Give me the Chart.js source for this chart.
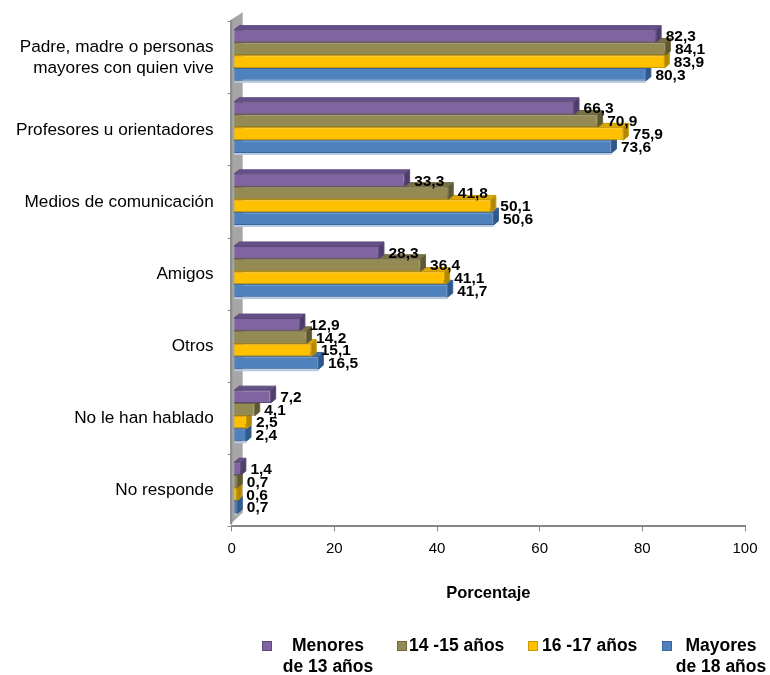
<!DOCTYPE html>
<html>
<head>
<meta charset="utf-8">
<script src="https://cdn.jsdelivr.net/npm/chart.js@4/dist/chart.umd.min.js"></script>
<style>
  body { margin: 0; background: #fff; }
  #wrap { width: 770px; height: 675px; position: relative; }
</style>
</head>
<body>
<div id="wrap"><canvas id="bars"></canvas></div>
<script>
// =============================
// DATA
// =============================
const categories = [
    ['Padre, madre o personas', 'mayores con quien vive'],
    'Profesores u orientadores',
    'Medios de comunicación',
    'Amigos',
    'Otros',
    'No le han hablado',
    'No responde'
];
const seriesNames = [['Menores', 'de 13 años'], ['14 -15 años'], ['16 -17 años'], ['Mayores', 'de 18 años']];
const menores13 = [82.3, 66.3, 33.3, 28.3, 12.9, 7.2, 1.4];
const edad14a15 = [84.1, 70.9, 41.8, 36.4, 14.2, 4.1, 0.7];
const edad16a17 = [83.9, 75.9, 50.1, 41.1, 15.1, 2.5, 0.6];
const mayores18 = [80.3, 73.6, 50.6, 41.7, 16.5, 2.4, 0.7];
const xTicks = [0, 20, 40, 60, 80, 100];

const FONT = '"Liberation Sans", Arial, sans-serif';

// front / top / side / edge colours per series
const palette = [
    { front: '#8064A2', top: '#66508A', side: '#4E3D6B', edge: '#5C4A7A' },
    { front: '#948A54', top: '#7A7144', side: '#5E5731', edge: '#6E6740' },
    { front: '#FFC000', top: '#DDA600', side: '#B48700', edge: '#C99A00' },
    { front: '#4F81BD', top: '#416EA5', side: '#30588A', edge: '#3A6597' }
];
// 3D depth of the bars, and shift of the front plane
const DX = 5, DY = -4;
const FRONT_X = 2, FRONT_Y = -2.5;

function poly(ctx, pts, fill, stroke) {
    ctx.beginPath();
    ctx.moveTo(pts[0][0], pts[0][1]);
    for (let i = 1; i < pts.length; i++) ctx.lineTo(pts[i][0], pts[i][1]);
    ctx.closePath();
    ctx.fillStyle = fill;
    ctx.fill();
    if (stroke) {
        ctx.strokeStyle = stroke;
        ctx.lineWidth = 1;
        ctx.stroke();
    }
}

// gray back wall + top/side faces of each bar
const depthPlugin = {
    id: 'depth',
    beforeDatasetsDraw(chart) {
        const ctx = chart.ctx;
        const a = chart.chartArea;
        ctx.save();
        poly(ctx, [[a.left - 1.5, a.top - 1.5], [a.left + 11, a.top - 9.5], [a.left + 11, a.bottom - 14], [a.left - 1.5, a.bottom - 2]], '#A6A6A6');
        ctx.fillStyle = '#8C8C8C';
        ctx.fillRect(a.left - 1.5, a.top - 1.5, 2, a.bottom - a.top - 0.5);
        ctx.restore();

        // left open until afterDatasetsDraw so the library's bars get the same shift
        ctx.save();
        ctx.translate(FRONT_X, FRONT_Y);
        for (let d = chart.data.datasets.length - 1; d >= 0; d--) {
            const c = palette[d];
            chart.getDatasetMeta(d).data.forEach(bar => {
                const p = bar.getProps(['x', 'y', 'base', 'height'], true);
                const t = p.y - p.height / 2, b = p.y + p.height / 2;
                if (d === chart.data.datasets.length - 1) {
                    ctx.fillStyle = '#B7C9E2';
                    ctx.fillRect(p.base, b, p.x - p.base, 2);
                }
                poly(ctx, [[p.base, t], [p.x, t], [p.x + DX, t + DY], [p.base + DX, t + DY]], c.top, c.edge);
                poly(ctx, [[p.x, t], [p.x + DX, t + DY], [p.x + DX, b + DY], [p.x, b]], c.side, c.edge);
            });
        }
    },
    afterDatasetsDraw(chart) {
        const ctx = chart.ctx;
        ctx.font = 'bold 15.5px ' + FONT;
        ctx.fillStyle = '#000';
        ctx.textAlign = 'left';
        ctx.textBaseline = 'middle';
        chart.data.datasets.forEach((ds, d) => {
            chart.getDatasetMeta(d).data.forEach((bar, i) => {
                const p = bar.getProps(['x', 'y'], true);
                ctx.fillText(ds.data[i].toFixed(1).replace('.', ','), p.x + 9.5, p.y + 1);
            });
        });
        ctx.restore();
    }
};

// legend with two-line entries
const legendPlugin = {
    id: 'legend2',
    afterDraw(chart) {
        const ctx = chart.ctx;
        const items = [
            { box: 262, cx: 328, align: 'center' },
            { box: 397, cx: 409, align: 'left' },
            { box: 528, cx: 542, align: 'left' },
            { box: 662, cx: 721, align: 'center' }
        ];
        ctx.save();
        ctx.font = 'bold 17.5px ' + FONT;
        ctx.textBaseline = 'middle';
        items.forEach((it, d) => {
            ctx.fillStyle = palette[d].front;
            ctx.fillRect(it.box, 641, 10, 10);
            ctx.strokeStyle = palette[d].edge;
            ctx.lineWidth = 1;
            ctx.strokeRect(it.box + 0.5, 641.5, 9, 9);
            ctx.fillStyle = '#000';
            ctx.textAlign = it.align;
            seriesNames[d].forEach((line, k) => ctx.fillText(line, it.cx, 646 + k * 21));
        });
        ctx.restore();
    }
};

const datasets = [menores13, edad14a15, edad16a17, mayores18].map((vals, d) => ({
    label: seriesNames[d].join(' '),
    data: vals,
    backgroundColor: palette[d].front,
    borderColor: palette[d].edge,
    borderWidth: 1,
    categoryPercentage: 0.71,
    barPercentage: 1.0
}));

new Chart(document.getElementById('bars'), {
    type: 'bar',
    data: { labels: categories, datasets: datasets },
    options: {
        indexAxis: 'y',
        responsive: true,
        maintainAspectRatio: false,
        animation: false,
        layout: { padding: { left: 0, top: 21.7, right: 25, bottom: 71.8 } },
        scales: {
            x: {
                min: 0,
                max: 100,
                afterBuildTicks: scale => { scale.ticks = xTicks.map(v => ({ value: v })); },
                grid: { drawOnChartArea: false, tickLength: 5, color: '#868686' },
                border: { color: '#868686', width: 2 },
                ticks: { color: '#000', padding: 8, font: { family: FONT, size: 15 } },
                title: {
                    display: true,
                    text: 'Porcentaje',
                    color: '#000',
                    font: { family: FONT, size: 16.5, weight: 'bold' },
                    padding: { top: 18, bottom: 0 }
                }
            },
            y: {
                afterFit: scale => {
                    scale.width = 231.7;
                    scale.paddingTop = 0;
                    scale.paddingBottom = 0;
                },
                grid: { drawOnChartArea: false, tickLength: 4, color: '#868686', offset: true },
                border: { display: false },
                ticks: { color: '#000', padding: 14, font: { family: FONT, size: 17.2, lineHeight: 1.24 } }
            }
        },
        plugins: {
            legend: { display: false },
            tooltip: { enabled: false }
        }
    },
    plugins: [depthPlugin, legendPlugin]
});
</script>
</body>
</html>
